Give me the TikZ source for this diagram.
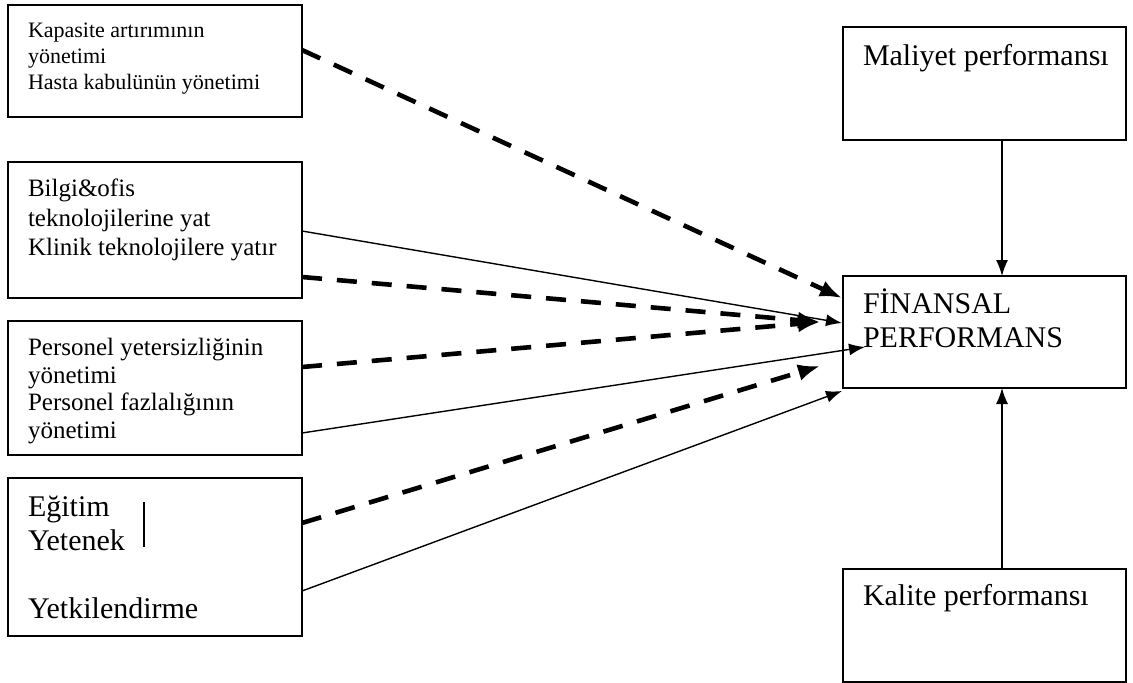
\documentclass[tikz,border=0pt]{standalone}
\usepackage{fontspec}
\setmainfont{Liberation Serif}
\usetikzlibrary{arrows.meta,calc}
\begin{document}
\begin{tikzpicture}[x=1pt,y=-1pt,
  box/.style={draw,line width=1.7pt,anchor=north west,inner sep=0pt,outer sep=0pt},
  lbl/.style={anchor=base west,inner sep=0pt,outer sep=0pt},
  smalltxt/.style={lbl,font=\fontsize{22}{26}\selectfont},
  midtxt/.style={lbl,font=\fontsize{25}{29}\selectfont},
  bigtxt/.style={lbl,font=\fontsize{30}{34}\selectfont},
  dasharrow/.style={line width=4.6pt,dash pattern=on 20pt off 15pt,
    -{Latex[length=22pt,width=17pt]}},
  thinarrow/.style={line width=1.4pt,-{Latex[length=16pt,width=12pt]}}]
\useasboundingbox (0,0) rectangle (1133,683);

% left column of boxes
\node[box,minimum width=294pt,minimum height=112pt] (b1) at (8,5) {};
\node[box,minimum width=294pt,minimum height=136pt] (b2) at (8,162) {};
\node[box,minimum width=294pt,minimum height=134pt] (b3) at (8,321) {};
\node[box,minimum width=294pt,minimum height=158pt] (b4) at (8,478) {};

% right column of boxes
\node[box,minimum width=283pt,minimum height=113pt] (mal) at (843,27) {};
\node[box,minimum width=283pt,minimum height=112pt] (fin) at (843,276) {};
\node[box,minimum width=283pt,minimum height=113pt] (kal) at (843,569) {};

% texts
\node[smalltxt] (t1a) at (28,37) {Kapasite artırımının};
\node[smalltxt] (t1b) at (28,63) {yönetimi};
\node[smalltxt] (t1c) at (28,89) {Hasta kabulünün yönetimi};

\node[midtxt] (t2a) at (28,196) {Bilgi\&ofis};
\node[midtxt] (t2b) at (28,226) {teknolojilerine yat};
\node[midtxt] (t2c) at (28,255) {Klinik teknolojilere yatır};

\node[midtxt] (t3a) at (28,355) {Personel yetersizliğinin};
\node[midtxt] (t3b) at (28,383) {yönetimi};
\node[midtxt] (t3c) at (28,410) {Personel fazlalığının};
\node[midtxt] (t3d) at (28,438) {yönetimi};

\node[bigtxt] (t4a) at (28,516) {Eğitim};
\node[bigtxt] (t4b) at (28,550) {Yetenek};
\node[bigtxt] (t4c) at (28,618) {Yetkilendirme};
\draw[line width=1.2pt] (144,502) -- (144,547);

\node[bigtxt] (tm) at (863,65) {Maliyet performansı};
\node[bigtxt] (tfa) at (863,313) {FİNANSAL};
\node[bigtxt] (tfb) at (863,347) {PERFORMANS};
\node[bigtxt] (tk) at (863,605) {Kalite performansı};

% connector end points
\coordinate (s1) at ($(b1.north east)+(0,45)$);
\coordinate (s2a) at ($(b2.north east)+(0,69)$);
\coordinate (s2b) at ($(b2.north east)+(0,115)$);
\coordinate (s3a) at ($(b3.north east)+(0,46)$);
\coordinate (s3b) at ($(b3.north east)+(0,112)$);
\coordinate (s4a) at ($(b4.north east)+(0,45)$);
\coordinate (s4b) at ($(b4.north east)+(0,113)$);

\coordinate (e1) at ($(fin.north west)+(-1,22)$);
\coordinate (e2) at ($(fin.north west)+(-1,47)$);
\coordinate (e3) at ($(fin.north west)+(-23,46)$);
\coordinate (e4) at ($(fin.north west)+(22,71)$);
\coordinate (e5) at ($(fin.north west)+(-23,90)$);
\coordinate (e6) at ($(fin.south west)+(-1,3)$);

% connectors into the financial box
\draw[dasharrow] (s1) -- (e1);
\draw[thinarrow] (s2a) -- (e2);
\draw[dasharrow] (s2b) -- (e3);
\draw[dasharrow] (s3a) -- (e3);
\draw[thinarrow] (s3b) -- (e4);
\draw[dasharrow] (s4a) -- (e5);
\draw[thinarrow] (s4b) -- (e6);

\draw[thinarrow] ($(mal.south)+(17.5,0)$) -- ($(fin.north)+(17.5,0)$);
\draw[thinarrow] ($(kal.north)+(17.5,0)$) -- ($(fin.south)+(17.5,0)$);
\end{tikzpicture}
\end{document}
